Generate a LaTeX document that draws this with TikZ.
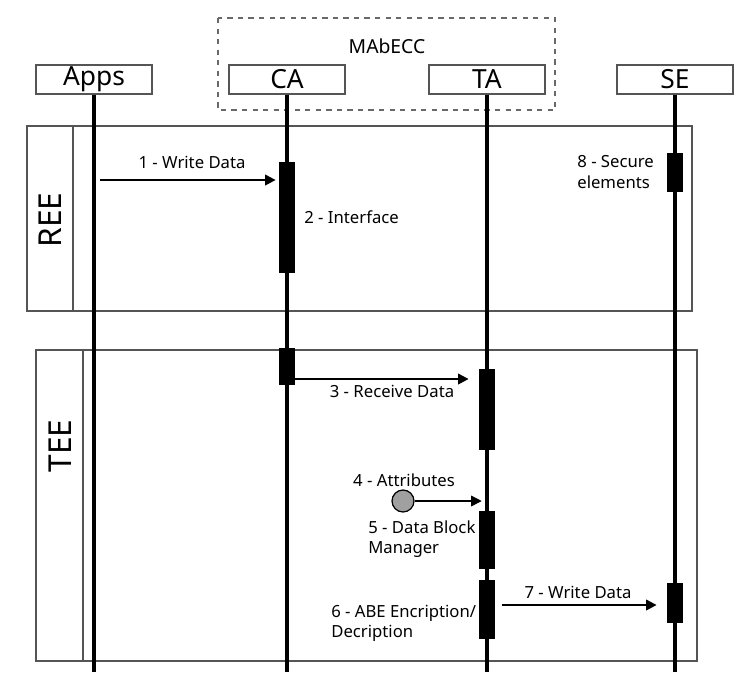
\documentclass[tikz,border=0pt]{standalone}
\usepackage{fontspec}
\setmainfont{Noto Sans}
\definecolor{boxGray}{RGB}{85,85,85}
\definecolor{dashGray}{RGB}{105,105,105}
\definecolor{dotGray}{RGB}{160,160,160}
\usepackage{tikz}
\usetikzlibrary{arrows.meta, positioning, calc}

\begin{document}
\begin{tikzpicture}[x=0.02cm, y=-0.02cm,
    head/.style={draw=boxGray, fill=white, line width=0.6pt, minimum width=2.32cm,
      minimum height=0.58cm, inner sep=0pt, font=\fontsize{15}{15}\selectfont},
    actbar/.style={fill=black, draw=black, minimum width=0.3cm, inner sep=0pt},
    msg/.style={-{Triangle[length=6pt, width=6pt]}, line width=1.2pt},
    lbl/.style={font=\fontsize{9.5}{11.5}\selectfont, align=left, inner sep=0pt},
    zone/.style={draw=boxGray, line width=0.7pt}]
  \useasboundingbox (0,0) rectangle (749,691);

  % MAbECC group
  \draw[dashed, dashGray, line width=0.7pt] (218,18) rectangle (555,110);
  \node[font=\fontsize{11}{11}\selectfont] (mab) at (387,46) {MAbECC};

  % REE / TEE zones
  \draw[zone] (27,126) rectangle (692,311);
  \draw[zone] (73,126) -- (73,311);
  \node[rotate=90, font=\fontsize{18}{18}\selectfont] (ree) at (50,220) {REE};
  \draw[zone] (36,350) rectangle (697,661);
  \draw[zone] (83,350) -- (83,661);
  \node[rotate=90, font=\fontsize{18}{18}\selectfont] (tee) at (60,446) {TEE};

  % participants
  \node[head] (apps) at (94,79.5) {Apps};
  \node[head] (ca) at (287,79.5) {CA};
  \node[head] (ta) at (487,79.5) {TA};
  \node[head] (se) at (675,79.5) {SE};
  \foreach \p in {apps, ca, ta, se}
    \draw[line width=1.8pt] (\p.south) -- (\p.south |- 0,672);

  % activations
  \node[actbar, minimum height=2.2cm] (ca1) at (287,217) {};
  \node[actbar, minimum height=0.76cm] (se1) at (675,172) {};
  \node[actbar, minimum height=0.72cm] (ca2) at (287,366) {};
  \node[actbar, minimum height=1.6cm] (ta1) at (487,409) {};
  \node[actbar, minimum height=1.14cm] (ta2) at (487,539.5) {};
  \node[actbar, minimum height=1.16cm] (ta3) at (487,609) {};
  \node[actbar, minimum height=0.78cm] (se2) at (675,602.5) {};

  % messages
  \coordinate (m1) at (100,180);
  \draw[msg, shorten >=2pt] (m1) -- (m1 -| ca1.west);
  \node[lbl] (l1) at (192,162) {1 - Write Data};
  \node[lbl, anchor=west] (l2) at (304,217) {2 - Interface};

  \draw[msg, shorten >=6pt] (ca2.east |- 0,379) -- (ta1.west |- 0,379);
  \node[lbl] (l3) at (392,391) {3 - Receive Data};

  \node[circle, draw=black, fill=dotGray, line width=0.7pt, minimum size=0.44cm,
    inner sep=0pt] (attr) at (403,501) {};
  \draw[-{Triangle[length=6pt, width=6pt]}, line width=0.8pt, shorten >=3pt]
    (attr) -- (attr -| ta2.north);
  \node[lbl] (l4) at (404,480) {4 - Attributes};
  \node[lbl, anchor=west] (l5) at (368,539) {5 - Data Block\\Manager};
  \node[lbl, anchor=west] (l6) at (331,623) {6 - ABE Encription/\\Decription};

  \draw[msg, shorten <=4pt, shorten >=6pt] (ta3.east |- 0,605) -- (se2.west |- 0,605);
  \node[lbl] (l7) at (578,592) {7 - Write Data};
  \node[lbl, anchor=west] (l8) at (577,172) {8 - Secure\\elements};
\end{tikzpicture}
\end{document}
